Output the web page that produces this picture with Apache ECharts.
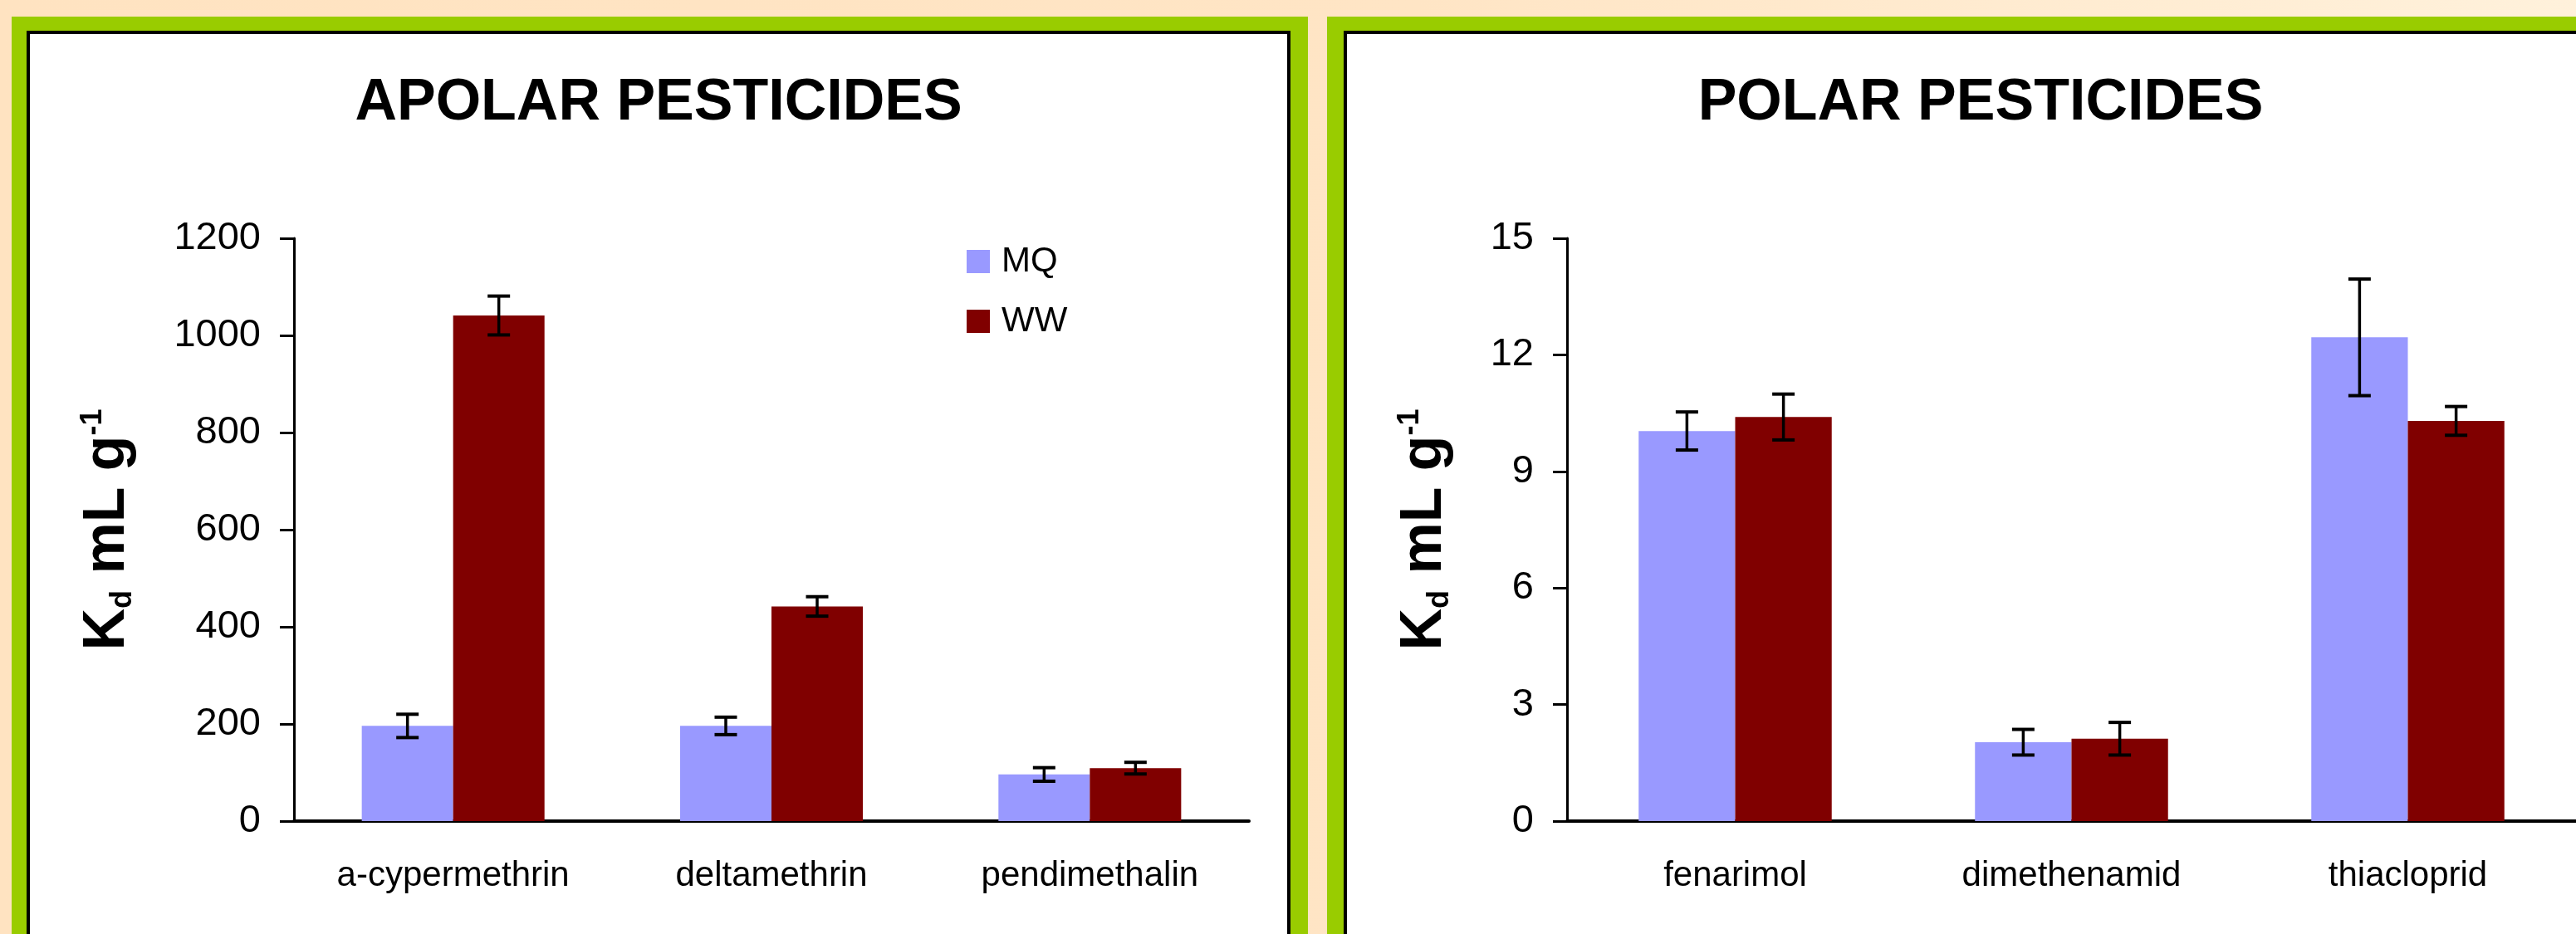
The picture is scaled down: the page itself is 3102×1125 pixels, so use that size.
<!DOCTYPE html>
<html>
<head>
<meta charset="utf-8">
<script src="https://cdn.jsdelivr.net/npm/echarts@6/dist/echarts.min.js"></script>
<style>
  html, body { margin: 0; padding: 0; overflow: hidden; }
  body {
    width: 3102px; height: 1125px; position: relative;
    background: linear-gradient(to right, #ffe3c1 0%, #ffe5c5 55%, #fff1db 100%);
  }
  .green { position: absolute; top: 20px; height: 1200px; background: #99cc00; }
  .panel { position: absolute; top: 37px; height: 1200px; background: #fff;
           border: 4px solid #000; box-sizing: border-box; }
  #chart { position: absolute; left: 0; top: 0; width: 3102px; height: 1125px; }
</style>
</head>
<body>
<div class="green" style="left:14px; width:1561px;"></div>
<div class="panel" style="left:32px; width:1522px;"></div>
<div class="green" style="left:1598px; width:1600px;"></div>
<div class="panel" style="left:1618px; width:1600px;"></div>
<div id="chart"></div>
<script>
// apolar pesticides (Kd, mL/g)
var apolarCats = ["a-cypermethrin", "deltamethrin", "pendimethalin"];
var apolarMQ = [196, 196, 96];
var apolarMQErr = [24, 18, 14];
var apolarWW = [1041, 442, 109];
var apolarWWErr = [40, 20, 12];
var apolarTicks = { min: 0, max: 1200, interval: 200 };

// polar pesticides
var polarCats = ["fenarimol", "dimethenamid", "thiacloprid"];
var polarMQ = [10.04, 2.03, 12.45];
var polarMQErr = [0.49, 0.33, 1.5];
var polarWW = [10.4, 2.12, 10.3];
var polarWWErr = [0.59, 0.42, 0.37];
var polarTicks = { min: 0, max: 15, interval: 3 };

var FONT = "Liberation Sans, Arial, sans-serif";
var CAT_GAP = 0.426;

function errData(vals, errs) {
  return vals.map(function (v, i) { return [i, v, errs[i]]; });
}

// I-beam error bar, shifted onto the MQ (left) or WW (right) bar
function errRender(sign) {
  return function (params, api) {
    var i = api.value(0), v = api.value(1), e = api.value(2);
    var band = api.size([1, 0])[0];
    var bw = band * (1 - CAT_GAP) / 2;
    var top = api.coord([i, v + e]);
    var bot = api.coord([i, v - e]);
    var x = top[0] + sign * bw / 2;
    var cap = 13.5;
    var st = { stroke: "#000", lineWidth: 4 };
    return {
      type: "group",
      children: [
        { type: "line", shape: { x1: x, y1: top[1], x2: x, y2: bot[1] }, style: { stroke: "#000", lineWidth: 3.5 } },
        { type: "line", shape: { x1: x - cap, y1: top[1], x2: x + cap, y2: top[1] }, style: st },
        { type: "line", shape: { x1: x - cap, y1: bot[1], x2: x + cap, y2: bot[1] }, style: st }
      ]
    };
  };
}

function xAxisOf(cats, grid) {
  return {
    type: "category",
    gridIndex: grid,
    data: cats,
    axisLine: { lineStyle: { color: "#000", width: 4 } },
    axisTick: { length: 14, lineStyle: { color: "#000", width: 2.5 } },
    axisLabel: { color: "#000", fontSize: 42, fontFamily: FONT, margin: 45 }
  };
}

function yAxisOf(t, grid, gap) {
  return {
    type: "value",
    gridIndex: grid,
    min: t.min,
    max: t.max,
    interval: t.interval,
    splitLine: { show: false },
    axisLine: { show: true, lineStyle: { color: "#000", width: 3 } },
    axisTick: { show: true, length: 17, lineStyle: { color: "#000", width: 3 } },
    axisLabel: {
      color: "#000", fontSize: 47, fontFamily: FONT, margin: 40,
      formatter: function (v) { return String(v); }
    },
    name: "{k|K}{d|d}{k| mL g}{s|-1}",
    nameLocation: "middle",
    nameRotate: 90,
    nameGap: gap,
    nameTextStyle: {
      rich: {
        k: { fontSize: 70, fontWeight: "bold", fontFamily: FONT, color: "#000", lineHeight: 72 },
        d: { fontSize: 36, fontWeight: "bold", fontFamily: FONT, color: "#000", verticalAlign: "bottom" },
        s: { fontSize: 36, fontWeight: "bold", fontFamily: FONT, color: "#000", verticalAlign: "top" }
      }
    }
  };
}

function barSeries(name, data, color, idx) {
  return {
    name: name,
    type: "bar",
    xAxisIndex: idx,
    yAxisIndex: idx,
    data: data,
    barGap: 0,
    barCategoryGap: (CAT_GAP * 100) + "%",
    itemStyle: { color: color },
    silent: true
  };
}

function errSeries(vals, errs, sign, idx) {
  return {
    type: "custom",
    xAxisIndex: idx,
    yAxisIndex: idx,
    data: errData(vals, errs),
    encode: { x: 0, y: 1 },
    renderItem: errRender(sign),
    z: 5,
    silent: true
  };
}

var chart = echarts.init(document.getElementById("chart"), null, { renderer: "canvas" });
var option = {
  backgroundColor: "transparent",
  animation: false,
  grid: [
    { left: 354, top: 287, width: 1150, height: 702 },
    { left: 1887, top: 287, width: 1224, height: 702 }
  ],
  graphic: [
    { type: "text", x: 793, y: 125, style: { text: "APOLAR PESTICIDES", fill: "#000", font: "bold 70px " + FONT, textAlign: "center", textVerticalAlign: "middle" } },
    { type: "text", x: 2385, y: 125, style: { text: "POLAR PESTICIDES", fill: "#000", font: "bold 70px " + FONT, textAlign: "center", textVerticalAlign: "middle" } }
  ],
  legend: {
    data: ["MQ", "WW"],
    orient: "vertical",
    left: 1164,
    top: 294,
    padding: 0,
    icon: "rect",
    itemWidth: 28,
    itemHeight: 28,
    itemGap: 30,
    textStyle: { color: "#000", fontSize: 42, fontFamily: FONT, padding: [0, 0, 0, 9] }
  },
  xAxis: [xAxisOf(apolarCats, 0), xAxisOf(polarCats, 1)],
  yAxis: [yAxisOf(apolarTicks, 0, 188), yAxisOf(polarTicks, 1, 135)],
  series: [
    barSeries("MQ", apolarMQ, "#9999ff", 0),
    barSeries("WW", apolarWW, "#800000", 0),
    errSeries(apolarMQ, apolarMQErr, -1, 0),
    errSeries(apolarWW, apolarWWErr, 1, 0),
    barSeries("MQ", polarMQ, "#9999ff", 1),
    barSeries("WW", polarWW, "#800000", 1),
    errSeries(polarMQ, polarMQErr, -1, 1),
    errSeries(polarWW, polarWWErr, 1, 1)
  ]
};
chart.setOption(option);
window.addEventListener("resize", function () {
  chart.resize();
});
</script>
</body>
</html>
